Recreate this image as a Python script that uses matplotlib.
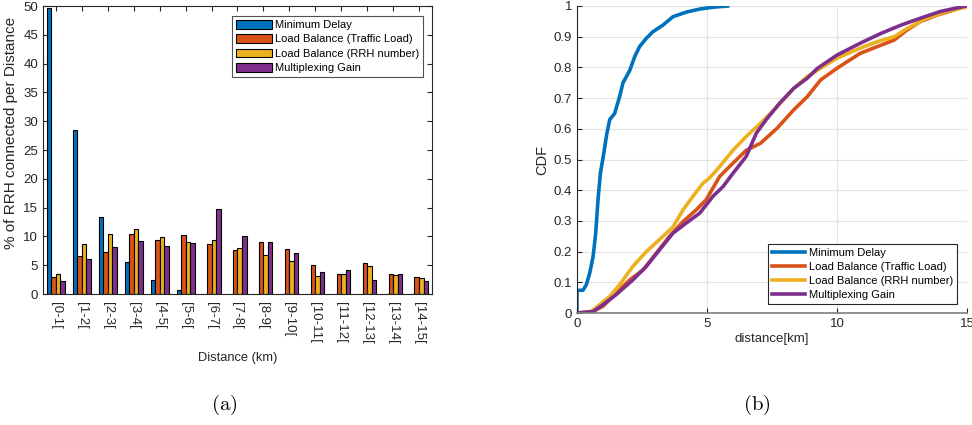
import numpy as np
import matplotlib
matplotlib.use("Agg")
import matplotlib.pyplot as plt

plt.rcParams['font.family'] = ['Liberation Sans', 'DejaVu Sans']
plt.rcParams['mathtext.fontset'] = 'cm'

# ---------------- data (a) ----------------
bins = ['[0-1[', '[1-2[', '[2-3[', '[3-4[', '[4-5[', '[5-6[', '[6-7[', '[7-8[',
        '[8-9[', '[9-10[', '[10-11[', '[11-12[', '[12-13[', '[13-14[', '[14-15[']
series_names = ['Minimum Delay', 'Load Balance (Traffic Load)',
                'Load Balance (RRH number)', 'Multiplexing Gain']
min_delay = [49.7, 28.4, 13.3, 5.5, 2.4, 0.7, 0.0, 0.0, 0.0, 0.0, 0.0, 0.0, 0.0, 0.0, 0.0]
lb_traffic = [2.9, 6.6, 7.3, 10.4, 9.3, 10.2, 8.6, 7.6, 9.1, 7.8, 5.0, 3.5, 5.4, 3.4, 2.9]
lb_rrh = [3.4, 8.6, 10.4, 11.3, 9.9, 9.1, 9.4, 8.0, 6.7, 5.7, 3.1, 3.5, 4.8, 3.3, 2.8]
mux_gain = [2.2, 6.0, 8.2, 9.2, 8.3, 8.9, 14.8, 10.1, 9.0, 7.2, 3.8, 4.1, 2.5, 3.4, 2.3]

# ---------------- data (b): CDF curves ----------------
md_x = [0, 0, 0.23, 0.36, 0.49, 0.62, 0.72, 0.81, 0.90, 1.03, 1.15, 1.26, 1.45, 1.64,
        1.77, 2.03, 2.22, 2.41, 2.67, 2.92, 3.31, 3.69, 4.2, 4.72, 5.23, 5.8]
md_y = [0, 0.074, 0.074, 0.092, 0.13, 0.184, 0.26, 0.37, 0.455, 0.52, 0.585, 0.63, 0.65,
        0.705, 0.75, 0.79, 0.835, 0.868, 0.895, 0.916, 0.938, 0.965, 0.98, 0.99, 0.996, 1.0]

tl_x = [0, 0.55, 1.0, 1.51, 2.03, 2.54, 3.05, 3.56, 4.08, 4.59, 4.97, 5.49, 6.0, 6.51,
        7.06, 7.70, 8.34, 8.86, 9.37, 10.0, 10.4, 10.9, 11.56, 12.2, 12.7, 13.2, 13.87, 14.5, 14.96]
tl_y = [0, 0.002, 0.022, 0.065, 0.108, 0.14, 0.195, 0.25, 0.298, 0.336, 0.369, 0.445, 0.488, 0.53,
        0.553, 0.602, 0.662, 0.705, 0.759, 0.797, 0.819, 0.846, 0.868, 0.889, 0.922, 0.949, 0.971, 0.987, 1.0]

rn_x = [0, 0.55, 0.87, 1.26, 1.64, 2.15, 2.67, 3.31, 3.69, 4.08, 4.46, 4.85, 5.1, 5.49, 6.0,
        6.51, 7.06, 7.70, 8.34, 8.86, 9.37, 10.0, 10.9, 11.56, 12.2, 12.7, 13.45, 14.2, 14.96]
rn_y = [0, 0.005, 0.027, 0.054, 0.092, 0.152, 0.2, 0.25, 0.28, 0.336, 0.38, 0.423, 0.44, 0.477, 0.53,
        0.575, 0.618, 0.672, 0.732, 0.77, 0.797, 0.83, 0.863, 0.884, 0.9, 0.927, 0.96, 0.982, 0.996]

mg_x = [0, 0.62, 1.0, 1.51, 2.15, 2.67, 3.18, 3.69, 4.2, 4.72, 5.23, 5.62, 6.0, 6.51, 6.9,
        7.28, 7.79, 8.34, 8.86, 9.25, 10.0, 10.9, 11.7, 12.47, 13.2, 13.97, 14.96]
mg_y = [0, 0.005, 0.027, 0.06, 0.108, 0.152, 0.206, 0.26, 0.293, 0.325, 0.38, 0.412, 0.455, 0.51, 0.586,
        0.63, 0.683, 0.732, 0.765, 0.797, 0.84, 0.879, 0.911, 0.938, 0.96, 0.982, 1.0]

colors = ['#0072BD', '#D95319', '#EDB120', '#7E2F8E']
axis_col = '#262626'

fig = plt.figure(figsize=(9.72, 4.25), dpi=100)

# ---------------- (a) grouped bars ----------------
ax1 = fig.add_axes([0.0442, 0.3082, 0.4002, 0.6776])
x = np.arange(1, len(bins) + 1)
all_series = [min_delay, lb_traffic, lb_rrh, mux_gain]
nb = len(all_series)
group_w = 0.7
bw = group_w / nb
for i, (vals, name, c) in enumerate(zip(all_series, series_names, colors)):
    off = (i - (nb - 1) / 2) * bw
    ax1.bar(x + off, vals, width=bw, color=c, edgecolor='black', linewidth=0.8, label=name)
ax1.set_xlim(0.5, 15.5)
ax1.set_ylim(0, 50)
ax1.set_yticks(np.arange(0, 51, 5))
ax1.set_xticks(x)
ax1.set_xticklabels(bins, rotation=270, va='top', ha='center')
ax1.tick_params(direction='in', top=True, right=True, labelsize=9.5, colors=axis_col, length=3.5)
ax1.tick_params(axis='x', pad=6)
for s in ax1.spines.values():
    s.set_color(axis_col)
    s.set_linewidth(0.8)
ax1.set_ylabel('% of RRH connected per Distance', fontsize=11, color=axis_col)
ax1.yaxis.set_label_coords(-0.063, 0.56)
ax1.set_xlabel('Distance (km)', fontsize=9.3, color=axis_col, labelpad=6)
leg1 = ax1.legend(loc='upper right', fontsize=8, frameon=True, fancybox=False,
                  edgecolor=axis_col, handlelength=3.2, handleheight=0.8,
                  borderpad=0.35, labelspacing=0.38, handletextpad=0.3,
                  bbox_to_anchor=(0.977, 0.965), borderaxespad=0)
leg1.get_frame().set_linewidth(0.8)

# ---------------- (b) CDF ----------------
ax2 = fig.add_axes([0.5936, 0.2635, 0.4012, 0.7224])
curves = [(md_x, md_y), (tl_x, tl_y), (rn_x, rn_y), (mg_x, mg_y)]
for (cx, cy), name, c in zip(curves, series_names, colors):
    ax2.plot(cx, cy, color=c, linewidth=2.6, label=name, solid_joinstyle='round')
ax2.set_xlim(0, 15)
ax2.set_ylim(0, 1)
ax2.set_xticks([0, 5, 10, 15])
ax2.set_yticks(np.round(np.arange(0, 1.01, 0.1), 1))
ax2.set_yticklabels(['0', '0.1', '0.2', '0.3', '0.4', '0.5', '0.6', '0.7', '0.8', '0.9', '1'])
ax2.grid(True, color='#e3e3e3', linewidth=0.8)
ax2.set_axisbelow(True)
ax2.tick_params(direction='in', labelsize=9.5, colors=axis_col, length=3.5)
ax2.spines['top'].set_visible(False)
ax2.spines['right'].set_visible(False)
ax2.spines['left'].set_color(axis_col)
ax2.spines['left'].set_linewidth(0.8)
ax2.spines['bottom'].set_color('#808080')
ax2.spines['bottom'].set_linewidth(1.2)
ax2.set_ylabel('CDF', fontsize=10.5, color=axis_col, labelpad=3)
ax2.set_xlabel('distance[km]', fontsize=9.5, color=axis_col, labelpad=2)
leg2 = ax2.legend(loc='lower right', fontsize=8, frameon=True, fancybox=False,
                  edgecolor=axis_col, handlelength=3.0, borderpad=0.35,
                  labelspacing=0.38, handletextpad=0.3,
                  bbox_to_anchor=(0.974, 0.029), borderaxespad=0, framealpha=1)
leg2.get_frame().set_linewidth(0.8)

# captions
fig.text(0.2305, 0.047, r'$\mathrm{(a)}$', fontsize=15, ha='center', va='center')
fig.text(0.779, 0.047, r'$\mathrm{(b)}$', fontsize=15, ha='center', va='center')

fig.savefig('out.png', dpi=100)
